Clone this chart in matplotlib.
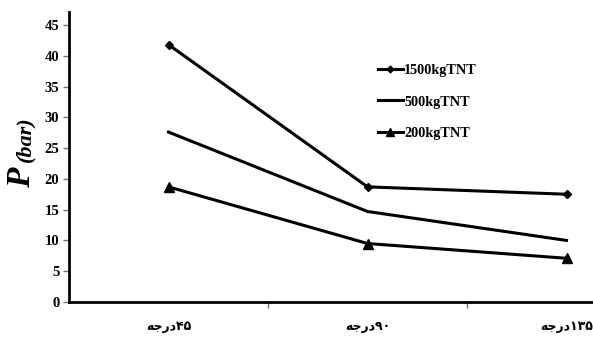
import numpy as np
import matplotlib.pyplot as plt
from matplotlib.ticker import MultipleLocator, FixedLocator

# data
categories = ['۴۵درجه', '۹۰درجه', '۱۳۵درجه']
p_1500 = [41.8, 18.7, 17.5]
p_500 = [27.6, 14.7, 10.0]
p_200 = [18.7, 9.5, 7.1]
series_names = ['1500kgTNT', '500kgTNT', '200kgTNT']

# matplotlib has no arabic shaping, so build the visual form by hand
forms = {'د': '\uFEA9', 'ر': '\uFEAD', 'ج': ('\uFE9F', '\uFEA0'), 'ه': ('\uFEEB', '\uFEEA')}

def visual(label):
    digits = ''.join(c for c in label if c in '۰۱۲۳۴۵۶۷۸۹')
    word = label[len(digits):]
    # word is "درجه": dal + reh are non-joining, jeem initial, heh final
    shaped = [forms['د'], forms['ر'], forms['ج'][0], forms['ه'][1]]
    return ''.join(reversed(shaped)) + digits

fig = plt.figure(figsize=(5.93, 3.38), dpi=100)
ax = fig.add_axes([69 / 593, 36 / 338, 597 / 593, 290 / 338])

x = np.arange(len(categories))
ax.plot(x, p_1500, color='black', lw=2.2, marker='D', ms=4.5, label=series_names[0])
ax.plot(x, p_500, color='black', lw=2.2, label=series_names[1])
ax.plot(x, p_200, color='black', lw=2.2, marker='^', ms=7, label=series_names[2])

ax.set_xlim(-0.5, 2.5)
ax.set_ylim(0, 47.1)
ax.yaxis.set_major_locator(MultipleLocator(5))
ax.set_xticks(x)
ax.set_xticklabels([visual(c) for c in categories], family='DejaVu Sans',
                   fontweight='bold', fontsize=9)
ax.tick_params(axis='x', length=0, pad=13)
ax.xaxis.set_minor_locator(FixedLocator([0.5, 1.5]))
ax.tick_params(axis='x', which='minor', length=4, width=1, color='#777777')
ax.tick_params(axis='y', length=4, width=1, color='#777777', pad=3)
for lab in ax.get_yticklabels():
    lab.set_family('Liberation Serif')
    lab.set_fontweight('bold')
    lab.set_fontsize(10.5)

for s in ['top', 'right']:
    ax.spines[s].set_visible(False)
ax.spines['left'].set_linewidth(2)
ax.spines['bottom'].set_linewidth(2)

fig.text(22 / 593, 1 - 178 / 338, 'P', rotation=90, ha='center', va='center',
         family='Liberation Serif', style='italic', fontweight='bold', fontsize=24)
fig.text(25 / 593, 1 - 139 / 338, '(bar)', rotation=90, ha='center', va='center',
         family='Liberation Serif', style='italic', fontweight='bold', fontsize=16)

ax.legend(loc='upper left', bbox_to_anchor=(296 / 597, 1 - 39 / 290), frameon=False,
          handlelength=1.75, handletextpad=0.1, labelspacing=1.3, markerscale=0.75,
          prop={'family': 'Liberation Serif', 'weight': 'bold', 'size': 10.3})

fig.savefig('out.png')
